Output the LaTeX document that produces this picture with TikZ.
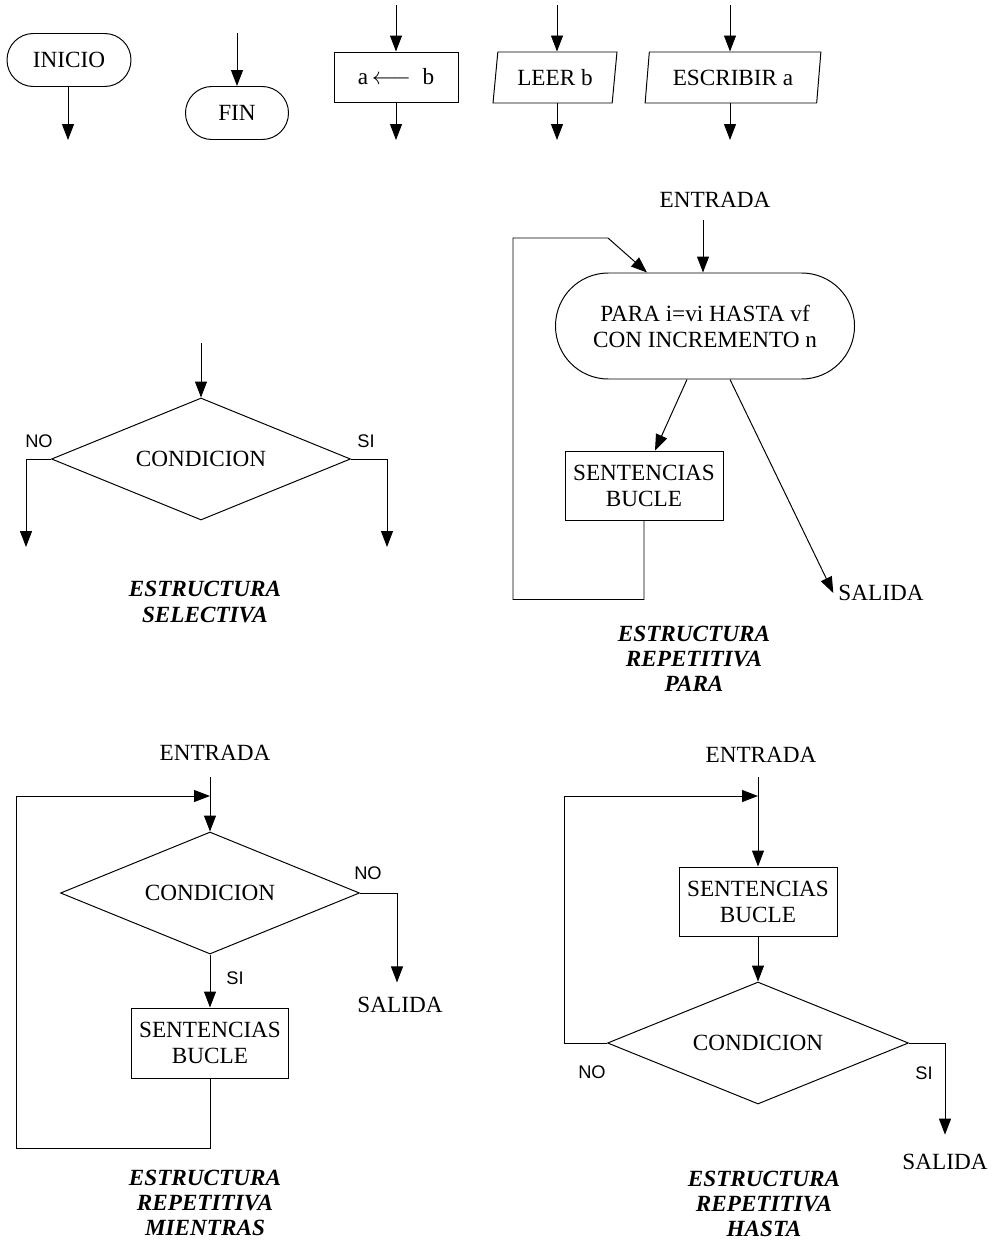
\documentclass[tikz,border=0pt]{standalone}
\usepackage{fontspec}
\setmainfont{Liberation Serif}
\setsansfont{Liberation Sans}
\usetikzlibrary{arrows.meta, shapes.geometric}

\begin{document}
\begin{tikzpicture}[x=0.25mm, y=-0.25mm, line width=0.7pt,
    every node/.style={font=\fontsize{16.5}{18.5}\selectfont},
    flecha/.style={-{Triangle[length=4mm,width=3mm]}},
    terminal/.style={draw, rectangle, inner sep=0pt, align=center},
    proceso/.style={draw, rectangle, inner sep=0pt, align=center},
    datos/.style={draw, trapezium, trapezium left angle=79, trapezium right angle=101,
        trapezium stretches=true, inner sep=0pt, minimum height=12.75mm},
    decision/.style={draw, diamond, aspect=2.4, inner sep=0pt, minimum width=74.75mm, minimum height=30.5mm},
    etiq/.style={font=\sffamily\fontsize{13}{15}\selectfont, inner sep=1pt},
    titulo/.style={font=\bfseries\itshape\fontsize{16.5}{17.8}\selectfont, align=center}]
    \useasboundingbox (0,0) rectangle (996,1242);

    % simbolos basicos
    \node[terminal, rounded corners=6.6mm, minimum width=31mm, minimum height=13.25mm] (inicio) at (69,60) {INICIO};
    \node[terminal, rounded corners=6.6mm, minimum width=25.75mm, minimum height=13.25mm] (fin) at (237,113) {FIN};
    \node[proceso, minimum width=31mm, minimum height=12.5mm] (asig) at (396,77) {a\,$\longleftarrow$\ \ b};
    \node[datos, minimum width=31mm] (leer) at (555,77.5) {LEER b};
    \node[datos, minimum width=44mm] (escribir) at (733,77.5) {ESCRIBIR a};

    \coordinate (sInicio) at (68,140);
    \coordinate (eFin) at (237,33);
    \coordinate (eAsig) at (396,5);
    \coordinate (sAsig) at (396,140);
    \coordinate (eLeer) at (557,5);
    \coordinate (sLeer) at (557,140);
    \coordinate (eEscr) at (730,5);
    \coordinate (sEscr) at (730,140);

    \draw[flecha] (inicio.south -| sInicio) -- (sInicio);
    \draw[flecha] (eFin) -- (fin.north);
    \draw[flecha] (eAsig) -- (asig.north);
    \draw[flecha] (asig.south) -- (sAsig);
    \draw[flecha] (eLeer) -- (eLeer |- leer.north);
    \draw[flecha] (sLeer |- leer.south) -- (sLeer);
    \draw[flecha] (eEscr) -- (eEscr |- escribir.north);
    \draw[flecha] (sEscr |- escribir.south) -- (sEscr);

    % estructura selectiva
    \node[decision] (cond1) at (201,459) {CONDICION};
    \coordinate (e1) at (201,343);
    \coordinate (no1) at (26,547);
    \coordinate (si1) at (387,547);
    \draw[flecha] (e1) -- (cond1.north);
    \draw[flecha] (cond1.west) -| (no1);
    \draw[flecha] (cond1.east) -| (si1);
    \node[etiq] (lno1) at (39,441) {NO};
    \node[etiq] (lsi1) at (366,441) {SI};
    \node[titulo] (tit1) at (205,602) {ESTRUCTURA\\SELECTIVA};

    % estructura repetitiva para
    \node (ent2) at (715,200) {ENTRADA};
    \node[terminal, rounded corners=13.2mm, minimum width=74.75mm, minimum height=26.5mm] (para) at (705,326)
        {PARA i=vi HASTA vf\\CON INCREMENTO n};
    \node[proceso, minimum width=39.5mm, minimum height=17.25mm] (sent2) at (644,485.5) {SENTENCIAS\\BUCLE};
    \node (sal2) at (881,593) {SALIDA};
    \coordinate (e2) at (703,220);
    \draw[flecha] (e2) -- (e2 |- para.north);
    \draw[flecha] ([xshift=-4.5mm]para.south) -- ([xshift=2.75mm]sent2.north);
    \draw[flecha] ([xshift=6.25mm]para.south) -- (sal2.west);
    \draw[flecha] (sent2.south) -- ++(0,79) -| (513,238) -- (608,238) -- ([xshift=-14.5mm]para.north);
    \node[titulo] (tit2) at (694,659) {ESTRUCTURA\\REPETITIVA\\PARA};

    % estructura repetitiva mientras
    \node (ent3) at (215,753) {ENTRADA};
    \node[decision] (cond3) at (210,893) {CONDICION};
    \node[proceso, minimum width=39.25mm, minimum height=17.5mm] (sent3) at (210,1043) {SENTENCIAS\\BUCLE};
    \node (sal3) at (400,1005) {SALIDA};
    \coordinate (e3) at (210,777);
    \coordinate (r3) at (210,796);
    \draw[flecha] (e3) -- (cond3.north);
    \draw[flecha] (cond3.south) -- (sent3.north);
    \draw[flecha] (cond3.east) -| ([xshift=-0.75mm, yshift=2.4mm]sal3.north);
    \draw[flecha] (sent3.south) -- ++(0,70) -| (16,796) -- (r3);
    \node[etiq] (lno3) at (368,873) {NO};
    \node[etiq] (lsi3) at (235,978) {SI};
    \node[titulo] (tit3) at (205,1203) {ESTRUCTURA\\REPETITIVA\\MIENTRAS};

    % estructura repetitiva hasta
    \node (ent4) at (761,755) {ENTRADA};
    \node[proceso, minimum width=39.5mm, minimum height=17.25mm] (sent4) at (758,901.5) {SENTENCIAS\\BUCLE};
    \node[decision, minimum width=75.25mm] (cond4) at (758,1043) {CONDICION};
    \node (sal4) at (945,1162) {SALIDA};
    \coordinate (e4) at (758,777);
    \coordinate (r4) at (758,796);
    \draw[flecha] (e4) -- (sent4.north);
    \draw[flecha] (sent4.south) -- (cond4.north);
    \draw[flecha] (cond4.west) -| (564,796) -- (r4);
    \draw[flecha] (cond4.east) -| ([yshift=3.6mm]sal4.north);
    \node[etiq] (lno4) at (592,1072) {NO};
    \node[etiq] (lsi4) at (924,1073) {SI};
    \node[titulo] (tit4) at (764,1204) {ESTRUCTURA\\REPETITIVA\\HASTA};
\end{tikzpicture}
\end{document}
